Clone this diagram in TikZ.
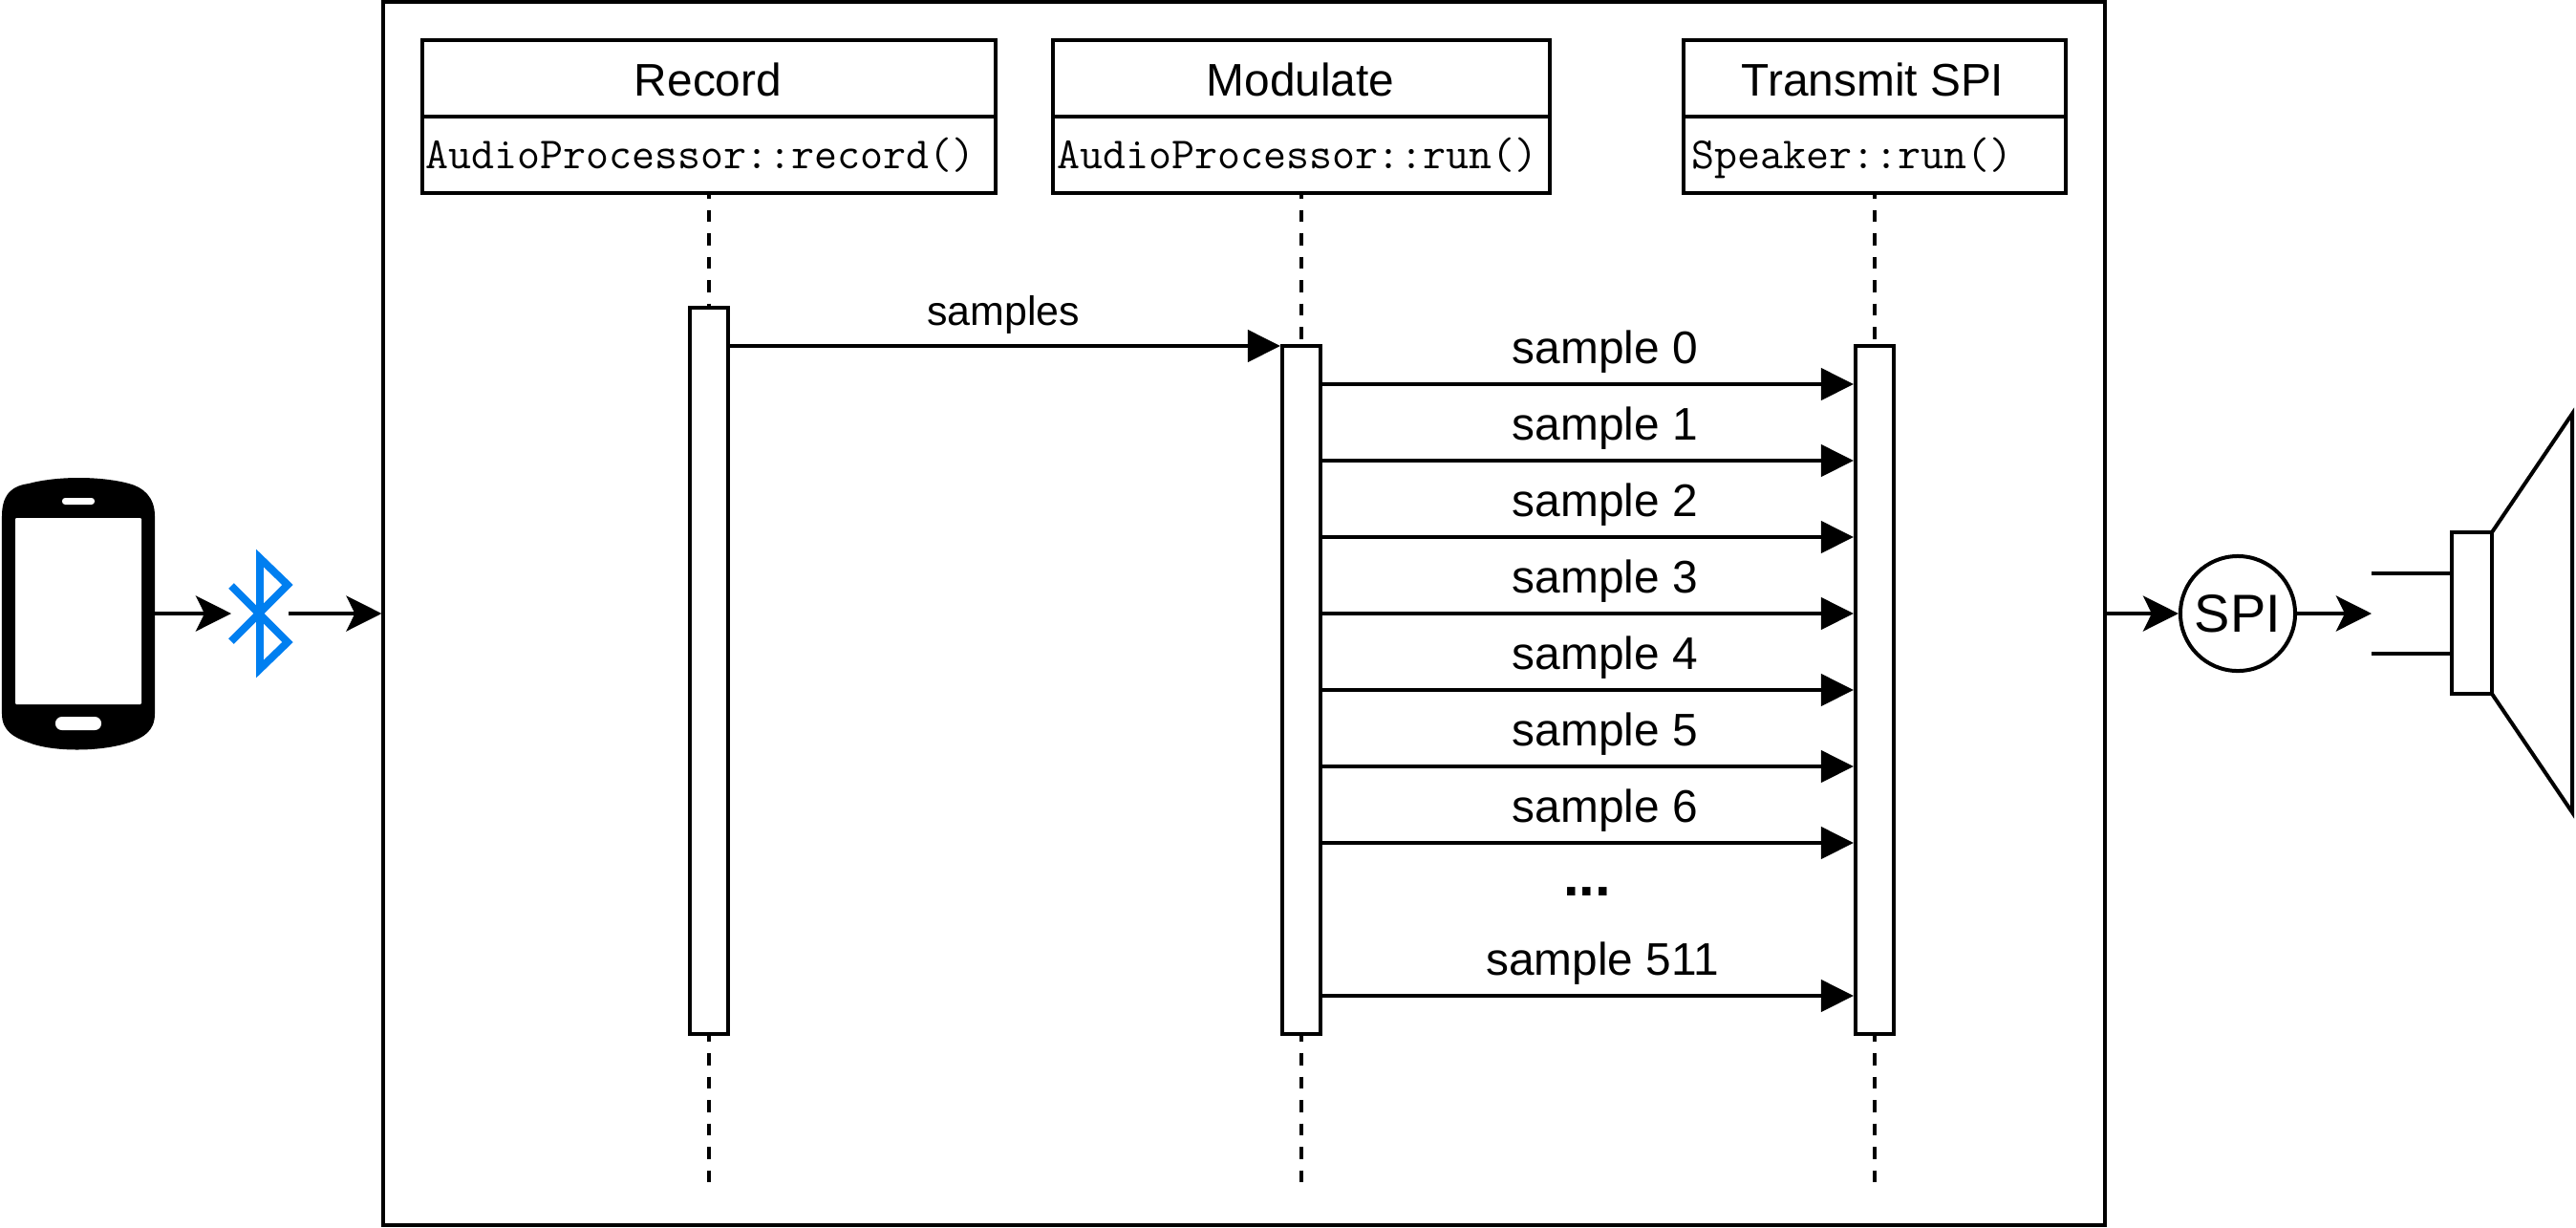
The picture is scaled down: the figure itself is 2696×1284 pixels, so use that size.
\documentclass[tikz,border=0pt]{standalone}
\usepackage{fontspec}
\setmainfont{Liberation Sans}
\usetikzlibrary{arrows.meta}
\definecolor{btblue}{RGB}{0,127,240}
\tikzset{
	classbox/.style={draw,fill=white,line width=1.14pt,inner sep=0pt,minimum height=0.8cm},
	lifeline/.style={line width=1.14pt,dash pattern=on 0.127cm off 0.118cm,dash phase=0.09cm},
	activation/.style={draw,fill=white,line width=1.14pt,inner sep=0pt,minimum width=0.4cm},
	conn/.style={line width=1.14pt,-{Stealth[length=0.37cm,width=0.37cm,inset=0.09cm]}},
	msg/.style={line width=1.14pt,-{Triangle[length=0.34cm,width=0.33cm]}},
	msglabel/.style={font=\fontsize{13.6pt}{16pt}\selectfont,inner sep=0pt,anchor=base},
	headlabel/.style={font=\fontsize{13.6pt}{16pt}\selectfont,inner sep=0pt,anchor=base},
	codelabel/.style={font=\fontsize{13.25pt}{15pt}\ttfamily,inner sep=0pt,anchor=base}
}
\begin{document}
\begin{tikzpicture}[x=0.01cm,y=-0.01cm]
			\useasboundingbox (0,0) rectangle (2696,1284);
			\node[draw,line width=1.14pt,inner sep=0pt,minimum width=18cm,minimum height=12.8cm] (frame) at (1302,642) {};
			\node[classbox,minimum width=6cm] (rechead) at (742,82) {};
			\node[classbox,minimum width=6cm] (recbody) at (742,162) {};
			\node[classbox,minimum width=5.2cm] (modhead) at (1362,82) {};
			\node[classbox,minimum width=5.2cm] (modbody) at (1362,162) {};
			\node[classbox,minimum width=4cm] (spihead) at (1962,82) {};
			\node[classbox,minimum width=4cm] (spibody) at (1962,162) {};
			\node[headlabel] at (741,100) {Record};
			\node[headlabel] at (1361,100) {Modulate};
			\node[headlabel] at (1960,100) {Transmit SPI};
			\node[codelabel] at (733,176) {AudioProcessor::record()};
			\node[codelabel] at (1358,176) {AudioProcessor::run()};
			\node[codelabel,anchor=base west] at (1770,176) {Speaker::run()};
			\coordinate (recend) at (742,1238);
			\coordinate (modend) at (1362,1238);
			\coordinate (spiend) at (1962,1238);
			\draw[lifeline] (recbody.south)--(recend);
			\draw[lifeline] (modbody.south)--(modend);
			\draw[lifeline] (spibody.south)--(spiend);
			\node[activation,minimum height=7.6cm] (recbar) at (742,702) {};
			\node[activation,minimum height=7.2cm] (modbar) at (1362,722) {};
			\node[activation,minimum height=7.2cm] (spibar) at (1962,722) {};
			\draw[msg] (recbar.east|-0,362)--(modbar.west|-0,362);
			\node[msglabel,font=\fontsize{12.2pt}{15pt}\selectfont] at (1050,340) {samples};
			\draw[msg] (modbar.east|-0,402)--(spibar.west|-0,402);
			\draw[msg] (modbar.east|-0,482)--(spibar.west|-0,482);
			\draw[msg] (modbar.east|-0,562)--(spibar.west|-0,562);
			\draw[msg] (modbar.east|-0,642)--(spibar.west|-0,642);
			\draw[msg] (modbar.east|-0,722)--(spibar.west|-0,722);
			\draw[msg] (modbar.east|-0,802)--(spibar.west|-0,802);
			\draw[msg] (modbar.east|-0,882)--(spibar.west|-0,882);
			\draw[msg] (modbar.east|-0,1042)--(spibar.west|-0,1042);
			\node[msglabel] at (1680,380) {sample 0};
			\node[msglabel] at (1680,460) {sample 1};
			\node[msglabel] at (1680,540) {sample 2};
			\node[msglabel] at (1680,620) {sample 3};
			\node[msglabel] at (1680,700) {sample 4};
			\node[msglabel] at (1680,780) {sample 5};
			\node[msglabel] at (1680,860) {sample 6};
			\node[msglabel,font=\fontsize{17pt}{20pt}\selectfont\bfseries] at (1661,937) {...};
			\node[msglabel] at (1677,1020) {sample 511};
			\fill (2,540) .. controls (2,515) and (15,508) .. (30,506) .. controls (60,498) and (105,498) .. (135,506) .. controls (150,510) and (162,520) .. (162,540)--(162,747) .. controls (162,765) and (150,772) .. (135,777) .. controls (105,787) and (55,787) .. (30,777) .. controls (15,772) and (2,765) .. (2,747)--cycle;
			\fill[white,rounded corners=0.3pt] (16,542) rectangle (148,737);
			\fill[white,rounded corners=0.9pt] (65,521) rectangle (99,528);
			\fill[white,rounded corners=1.9pt] (58,750) rectangle (106,764);
			\coordinate (phoneout) at (162,642);
			\coordinate (btin) at (242,642);
			\coordinate (btout) at (302,642);
			\draw[conn] (phoneout)--(btin);
			\draw[btblue,line width=2.27pt,miter limit=10] (242,613)--(301,672)--(272,700)--(272,584)--(301,612)--(242,671);
			\draw[conn] (btout)--(frame.west|-btout);
			\node[draw,circle,line width=1.14pt,inner sep=0pt,minimum size=1.2cm,font=\fontsize{15.9pt}{18pt}\selectfont] (spi) at (2342,642) {SPI};
			\coordinate (spkin) at (2482,642);
			\draw[conn] (frame.east|-spi)--(spi);
			\draw[conn] (spi)--(spkin);
			\draw[line width=1.14pt] (2566,557) rectangle (2608,726);
			\draw[line width=1.14pt] (2608,557)--(2692,433)--(2692,850)--(2608,726);
			\draw[line width=1.14pt] (2482,600)--(2566,600);
			\draw[line width=1.14pt] (2482,684)--(2566,684);
		\end{tikzpicture}
\end{document}
